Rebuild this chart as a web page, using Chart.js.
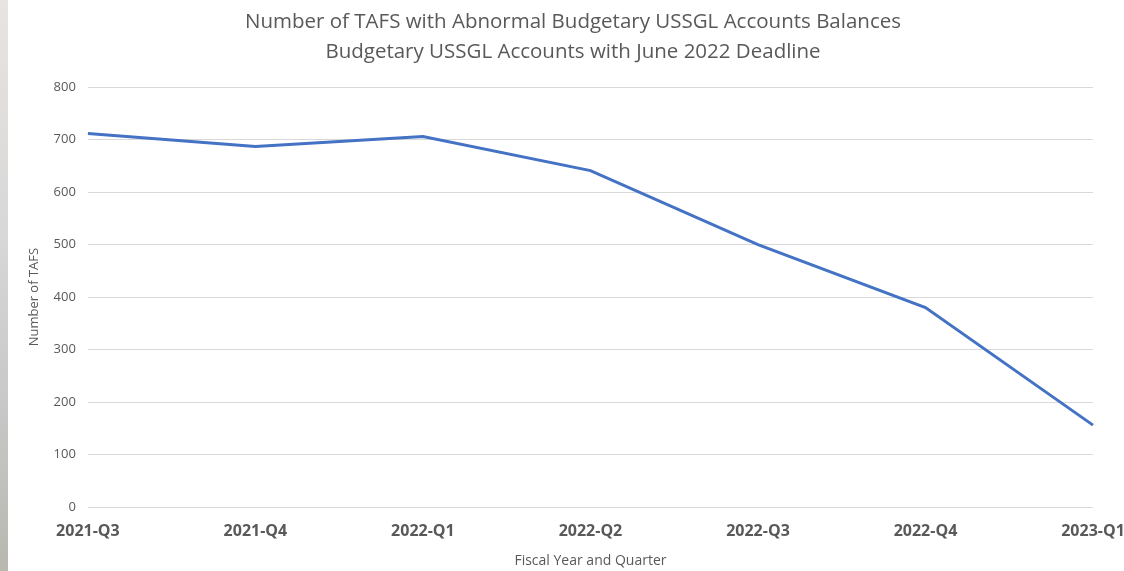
<!DOCTYPE html>
<html>
<head>
<meta charset="utf-8">
<script src="https://cdn.jsdelivr.net/npm/chart.js@4"></script>
<style>
  body { margin: 0; background: #fff; }
  .wrap { position: relative; width: 1124px; height: 571px; }
  .edge { position: absolute; left: 0; top: 0; width: 8px; height: 571px;
          background: linear-gradient(#e8e4e0, #d8d8d8 40%, #c8c8c8 70%, #b8b8b0); }
  canvas { position: absolute; left: 0; top: 0; }
</style>
</head>
<body>
<div class="wrap">
  <div class="edge"></div>
  <canvas id="chart" width="1124" height="571"></canvas>
</div>
<script>
const quarters = ['2021-Q3', '2021-Q4', '2022-Q1', '2022-Q2', '2022-Q3', '2022-Q4', '2023-Q1'];
const tafsCounts = [712, 687, 706, 641, 500, 380, 156];
const titleLines = ['Number of TAFS with Abnormal Budgetary USSGL Accounts Balances',
                    'Budgetary USSGL Accounts with June 2022 Deadline'];

const grey = '#595959';
const font = "'Open Sans', 'Liberation Sans', sans-serif";

new Chart(document.getElementById('chart').getContext('2d'), {
  type: 'line',
  data: {
    labels: quarters,
    datasets: [{
      data: tafsCounts,
      borderColor: '#4472C4',
      borderWidth: 3,
      pointRadius: 0,
      tension: 0,
      fill: false,
    }],
  },
  options: {
    responsive: false,
    animation: false,
    layout: { padding: { top: 8, left: 22, right: 0, bottom: 2 } },
    plugins: {
      legend: { display: false },
      tooltip: { enabled: false },
      title: {
        display: true,
        text: titleLines,
        color: grey,
        font: { family: font, size: 20.5, weight: 'normal', lineHeight: 1.42 },
        padding: { top: 0, bottom: 21 },
      },
    },
    scales: {
      x: {
        offset: false,
        grid: { display: false },
        border: { display: false },
        ticks: { color: grey, font: { family: font, size: 16, weight: 'bold' }, padding: 7, maxRotation: 0 },
        title: { display: true, text: 'Fiscal Year and Quarter', color: grey,
                 font: { family: font, size: 14 }, padding: { top: 4, bottom: 0 } },
        // the last label runs right to the edge in the original
        afterFit: (scale) => { scale.paddingRight = 31; },
      },
      y: {
        min: 0,
        max: 800,
        grid: { color: '#d9d9d9', lineWidth: 1, drawTicks: false, tickLength: 0 },
        border: { display: false },
        ticks: { stepSize: 100, color: grey, font: { family: font, size: 13 }, padding: 12 },
        title: { display: true, text: 'Number of TAFS', color: grey,
                 font: { family: font, size: 13 }, padding: { top: 4, bottom: 0 } },
      },
    },
  },
});
</script>
</body>
</html>
